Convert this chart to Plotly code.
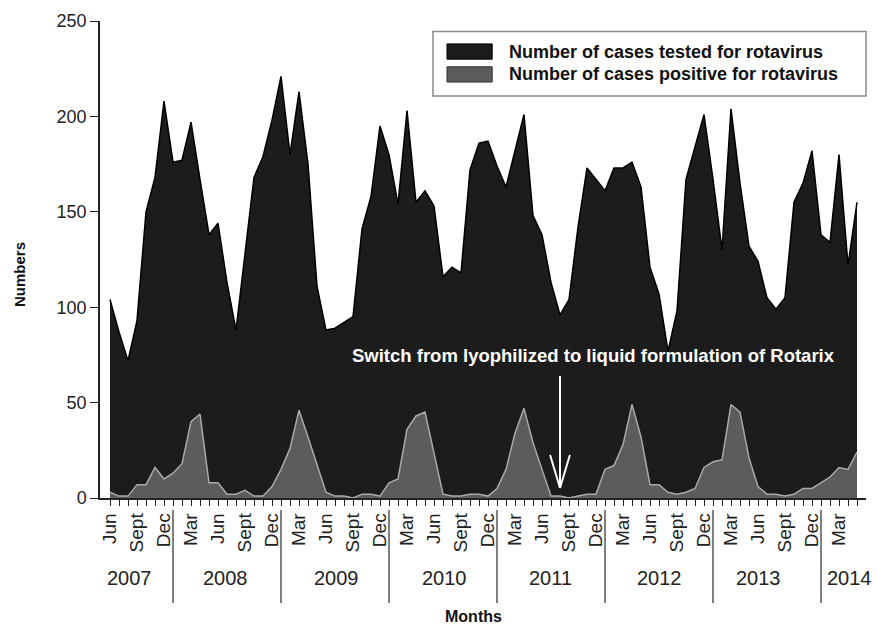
import plotly.graph_objects as go

# Monthly surveillance, June 2007 to May 2014
month_names = ["Jan", "Feb", "Mar", "Apr", "May", "Jun",
               "Jul", "Aug", "Sept", "Oct", "Nov", "Dec"]
start_year, start_month = 2007, 6
n_months = 84

tested = [104, 87, 72, 93, 150, 168, 208,
          176, 177, 197, 167, 138, 144, 113, 88, 128, 168, 179, 198,
          221, 180, 213, 175, 111, 88, 89, 92, 95, 141, 158, 195,
          180, 154, 203, 155, 161, 153, 116, 121, 118, 172, 186, 187,
          174, 163, 182, 201, 148, 138, 113, 96, 104, 142, 173, 167,
          161, 173, 173, 176, 163, 121, 107, 77, 98, 167, 184, 201,
          167, 130, 204, 165, 132, 124, 105, 99, 105, 155, 165, 182,
          138, 134, 180, 122, 155]

positive = [3, 1, 1, 7, 7, 16, 10,
            13, 18, 40, 44, 8, 8, 2, 2, 4, 1, 1, 6,
            15, 26, 46, 32, 17, 3, 1, 1, 0, 2, 2, 1,
            8, 10, 36, 43, 45, 24, 2, 1, 1, 2, 2, 1,
            5, 15, 34, 47, 29, 15, 1, 1, 0, 1, 2, 2,
            15, 17, 28, 49, 32, 7, 7, 3, 2, 3, 5, 16,
            19, 20, 49, 45, 21, 6, 2, 2, 1, 2, 5, 5,
            8, 11, 16, 15, 24]

shown_labels = {"Mar", "Jun", "Sept", "Dec"}
year_label_pos = {2007: 2.2, 2008: 12.8, 2009: 25.2, 2010: 37.2,
                  2011: 48.9, 2012: 61.1, 2013: 72.1, 2014: 82.2}
switch_month = ("Aug", 2011)
switch_text = "Switch from lyophilized to liquid formulation of Rotarix"
legend_names = ["Number of cases tested for rotavirus",
                "Number of cases positive for rotavirus"]

# build month sequence
months = []
m, y = start_month, start_year
for _ in range(n_months):
    months.append((month_names[m - 1], y))
    m += 1
    if m > 12:
        m, y = 1, y + 1
idx = list(range(n_months))
tick_text = [name if name in shown_labels else "" for name, _ in months]

FONT = "Liberation Sans, Arial, Helvetica, sans-serif"
TESTED_FILL = "#1c1c1c"
POS_FILL = "#5c5c5c"
POS_LINE = "#a9a9a9"

fig = go.Figure()
fig.add_trace(go.Scatter(
    x=idx, y=tested, mode="lines", fill="tozeroy",
    fillcolor=TESTED_FILL, line=dict(color="#000000", width=1.5),
    name=legend_names[0], showlegend=False, hoverinfo="skip"))
fig.add_trace(go.Scatter(
    x=idx, y=positive, mode="lines", fill="tozeroy",
    fillcolor=POS_FILL, line=dict(color=POS_LINE, width=1.5),
    name=legend_names[1], showlegend=False, hoverinfo="skip"))

shapes = []
annotations = []

# year separators below the axis, at each January
for i, (name, yr) in enumerate(months):
    if name == "Jan":
        shapes.append(dict(type="line", xref="x", yref="paper",
                           x0=i, x1=i, y0=-0.025, y1=-0.22,
                           line=dict(color="#555555", width=1.5)))
for yr, pos in year_label_pos.items():
    annotations.append(dict(x=pos, y=-0.168, xref="x", yref="paper",
                            text=str(yr), showarrow=False,
                            font=dict(family=FONT, size=20, color="#222222"),
                            xanchor="center", yanchor="middle"))

# switch annotation with open arrow
sw = months.index(switch_month)
annotations.append(dict(x=53.7, y=74.5, xref="x", yref="y",
                        text="<b>" + switch_text + "</b>", showarrow=False,
                        font=dict(family=FONT, size=18.5, color="#ffffff"),
                        xanchor="center", yanchor="middle"))
white = dict(color="#ffffff", width=2)
shapes.append(dict(type="line", xref="x", yref="y", x0=sw, x1=sw,
                   y0=64, y1=5.2, line=white))
shapes.append(dict(type="line", xref="x", yref="y", x0=sw - 1.1, x1=sw,
                   y0=22.5, y1=5.2, line=white))
shapes.append(dict(type="line", xref="x", yref="y", x0=sw + 1.1, x1=sw,
                   y0=22.5, y1=5.2, line=white))

# legend box
shapes.append(dict(type="rect", xref="paper", yref="paper",
                   x0=0.4347, x1=1.0, y0=0.843, y1=0.978,
                   line=dict(color="#8a8a8a", width=1.5),
                   fillcolor="#ffffff"))
for k, (fill, edge) in enumerate([(TESTED_FILL, "#000000"),
                                  (POS_FILL, "#333333")]):
    top = 0.952 - k * 0.048
    shapes.append(dict(type="rect", xref="paper", yref="paper",
                       x0=0.453, x1=0.512, y0=top - 0.032, y1=top,
                       line=dict(color=edge, width=1), fillcolor=fill))
    annotations.append(dict(x=0.5313, y=top - 0.016, xref="paper",
                            yref="paper", text="<b>" + legend_names[k] + "</b>",
                            showarrow=False, xanchor="left",
                            yanchor="middle",
                            font=dict(family=FONT, size=18, color="#111111")))

# axis titles
annotations.append(dict(x=-0.1057, y=0.4675, xref="paper", yref="paper",
                        text="<b>Numbers</b>", textangle=-90,
                        showarrow=False, xanchor="center", yanchor="middle",
                        font=dict(family=FONT, size=15, color="#111111")))
annotations.append(dict(x=0.487, y=-0.2475, xref="paper", yref="paper",
                        text="<b>Months</b>", showarrow=False,
                        xanchor="center", yanchor="middle",
                        font=dict(family=FONT, size=16, color="#111111")))

fig.update_layout(
    width=877, height=626,
    margin=dict(l=100, r=11, t=21, b=128),
    paper_bgcolor="#ffffff", plot_bgcolor="#ffffff",
    shapes=shapes, annotations=annotations,
    xaxis=dict(range=[-10 / 9, 84], tickmode="array", tickvals=idx,
               ticktext=tick_text, tickangle=-90, ticks="outside",
               ticklen=6, tickwidth=1.2, tickcolor="#222222",
               showline=True, linecolor="#222222", linewidth=1.5,
               showgrid=False, zeroline=False,
               tickfont=dict(family=FONT, size=19, color="#222222")),
    yaxis=dict(range=[0, 250], tickvals=[0, 50, 100, 150, 200, 250],
               ticks="outside", ticklen=8, tickwidth=1.2,
               tickcolor="#222222", showline=True, linecolor="#222222",
               linewidth=1.5, showgrid=False, zeroline=False,
               tickfont=dict(family=FONT, size=18, color="#222222")),
)

fig.write_html("out.html")
